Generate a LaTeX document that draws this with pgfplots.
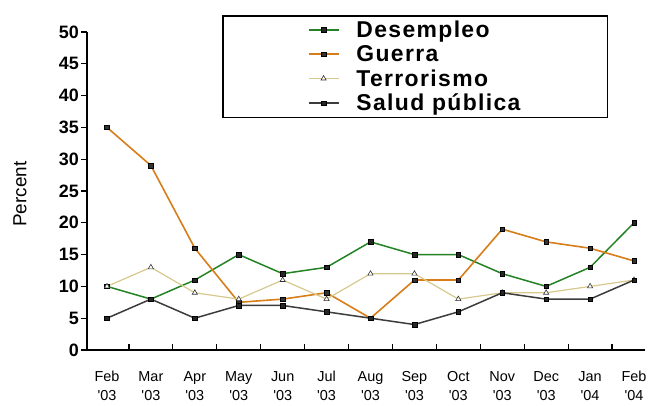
\documentclass[border=0pt]{standalone}
\usepackage{fontspec}
\setmainfont{Liberation Sans}
\usepackage{pgfplots}
\pgfplotsset{compat=1.18}
\definecolor{cgreen}{RGB}{35,130,35}
\definecolor{corange}{RGB}{215,125,25}
\definecolor{cbeige}{RGB}{215,200,140}
\definecolor{cgray}{RGB}{60,60,60}
\begin{document}
\begin{tikzpicture}
\useasboundingbox (0,0) rectangle (649bp,406bp);
\begin{axis}[
  at={(87bp,56bp)}, anchor=south west, scale only axis,
  width=558bp, height=318bp,
  xmin=-0.455, xmax=12.25, ymin=0, ymax=50,
  axis x line*=bottom, axis y line*=left,
  axis line style={line width=1.6bp,-},
  tick align=outside, major tick length=6bp, minor tick length=6bp,
  tick style={line width=1.2bp, black},
  xtick={0,...,12}, minor x tick num=1,
  major x tick style={draw=none},
  minor x tick style={yshift=6bp},
  xticklabels={{Feb\\\textquotesingle03},{Mar\\\textquotesingle03},{Apr\\\textquotesingle03},{May\\\textquotesingle03},{Jun\\\textquotesingle03},{Jul\\\textquotesingle03},{Aug\\\textquotesingle03},{Sep\\\textquotesingle03},{Oct\\\textquotesingle03},{Nov\\\textquotesingle03},{Dec\\\textquotesingle03},{Jan\\\textquotesingle04},{Feb\\\textquotesingle04}},
  xticklabel style={font=\fontsize{14.5}{19}\selectfont, align=center, yshift=-12bp},
  ytick={0,5,...,50},
  yticklabel style={font=\fontsize{18}{18}\selectfont\bfseries, inner sep=2bp},
  /pgf/number format/assume math mode=true,
  ylabel={Percent},
  ylabel style={at={(axis description cs:-0.12,0.49)}, anchor=center, font=\fontsize{19}{19}\selectfont},
  legend image code/.code={\draw[mark repeat=2,mark phase=2,#1] plot coordinates {(0bp,0bp) (15bp,0bp) (30bp,0bp)};},
  legend cell align=left,
  legend style={at={(axis description cs:0.242,1.053)}, anchor=north west,
    draw=black, line width=1.5bp, inner xsep=85bp, inner ysep=3bp,
    font=\fontsize{23}{23}\selectfont\bfseries\addfontfeatures{LetterSpace=6},
    row sep=2.5bp, column sep=15bp, nodes={inner sep=2bp}},
]
\addplot[color=cgreen, line width=1.5bp, mark=square*, mark size=2.3bp,
  mark options={fill=black!85, draw=black, line width=0.4bp}]
  coordinates {(0,10) (1,8) (2,11) (3,15) (4,12) (5,13) (6,17) (7,15) (8,15) (9,12) (10,10) (11,13) (12,20)};
\addlegendentry{Desempleo}
\addplot[color=corange, line width=1.6bp, mark=square*, mark size=2.3bp,
  mark options={fill=black!80, draw=black, line width=0.4bp}]
  coordinates {(0,35) (1,29) (2,16) (3,7.5) (4,8) (5,9) (6,5) (7,11) (8,11) (9,19) (10,17) (11,16) (12,14)};
\addlegendentry{Guerra}
\addplot[color=cbeige, line width=1.2bp, mark=triangle*, mark size=3bp,
  mark options={fill=white, draw=black!80, line width=0.6bp}]
  coordinates {(0,10) (1,13) (2,9) (3,8) (4,11) (5,8) (6,12) (7,12) (8,8) (9,9) (10,9) (11,10) (12,11)};
\addlegendentry{Terrorismo}
\addplot[color=cgray, line width=1.5bp, mark=square*, mark size=2.3bp,
  mark options={fill=black!85, draw=black, line width=0.4bp}]
  coordinates {(0,5) (1,8) (2,5) (3,7) (4,7) (5,6) (6,5) (7,4) (8,6) (9,9) (10,8) (11,8) (12,11)};
\addlegendentry{Salud pública}
\end{axis}
\end{tikzpicture}
\end{document}
